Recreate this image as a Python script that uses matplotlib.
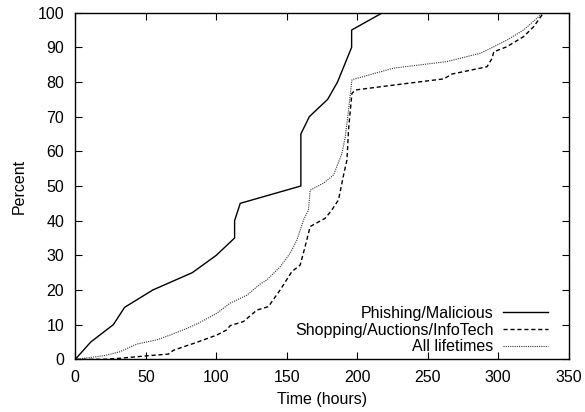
import matplotlib
matplotlib.use("Agg")
import matplotlib.pyplot as plt

plt.rcParams['font.family'] = ['Liberation Sans', 'DejaVu Sans']

# Phishing/Malicious
phish_x = [0, 11, 27, 35, 55, 83, 100, 113, 113, 117, 160, 160, 166, 179, 186, 196, 196, 218]
phish_y = [0, 5, 10, 15, 20, 25, 30, 35, 40, 45, 50, 65, 70, 75, 80, 90, 95, 100]

# Shopping/Auctions/InfoTech
shop_x = [0, 20, 31.7, 50.7, 66, 69.6, 76.7, 86.2, 100.4, 107.5, 109.8, 119.3, 128.8, 137,
          145.3, 153.6, 159.5, 163, 166.6, 177.3, 182, 186.7, 190.3, 192.7, 193.8, 196.2,
          198.6, 235.3, 261.3, 267.2, 292, 295.6, 296.8, 306.2, 318, 325.2, 332.2]
shop_y = [0, 0, 0.3, 1, 1.5, 2.6, 3.6, 4.9, 7, 8.5, 9.7, 10.9, 14.2, 15.2,
          20, 25.3, 27.2, 32.5, 38.3, 40.7, 43.1, 46, 53.2, 57.5, 66.2, 76.7,
          77.7, 79.6, 80.9, 82.3, 84.4, 86.8, 88.7, 90.2, 93.1, 96, 100]

# All lifetimes
all_x = [0, 20, 31.8, 43.6, 57.8, 67.2, 79.1, 87.3, 100.4, 109.8, 121.7, 131.1, 135.9, 145.3,
         152.4, 157.2, 161.9, 165.4, 166.6, 176, 183.2, 189.1, 191.5, 193.8, 196.2, 197.4,
         225.8, 263.7, 287.3, 292, 306.2, 318, 329.9, 332]
all_y = [0, 1, 2.2, 4.4, 5.6, 7, 8.9, 10.4, 13.3, 16.2, 18.5, 21.7, 22.9, 26.7,
         30.6, 34.4, 40.2, 43.1, 48.8, 50.8, 53.2, 59.4, 64.2, 71.9, 80.6, 80.8,
         84, 85.9, 88.3, 89.2, 92.1, 95, 99.3, 100]

labels = ["Phishing/Malicious", "Shopping/Auctions/InfoTech", "All lifetimes"]
x_ticks = [0, 50, 100, 150, 200, 250, 300, 350]
y_ticks = [0, 10, 20, 30, 40, 50, 60, 70, 80, 90, 100]

FS = 11.5

fig = plt.figure(figsize=(5.85, 4.12), dpi=100)
ax = fig.add_axes([0.1287, 0.1279, 0.8435, 0.8413])

ax.plot(phish_x, phish_y, color='black', lw=1.0, linestyle='-', label=labels[0])
ax.plot(shop_x, shop_y, color='black', lw=1.0, linestyle=(0, (3, 2)), label=labels[1])
ax.plot(all_x, all_y, color='#333333', lw=0.8, linestyle=(0, (1, 1)), label=labels[2])

ax.set_xlim(0, 350)
ax.set_ylim(0, 100)
ax.set_xticks(x_ticks)
ax.set_yticks(y_ticks)
ax.tick_params(direction='in', length=5, width=0.8, top=True, right=True,
               labelsize=FS, colors='black')
ax.tick_params(axis='x', pad=8)
ax.tick_params(axis='y', pad=8)
for s in ax.spines.values():
    s.set_linewidth(1.0)

ax.set_xlabel("Time (hours)", fontsize=FS, labelpad=5)
ax.set_ylabel("Percent", fontsize=FS, labelpad=8)

leg = ax.legend(loc='lower right', bbox_to_anchor=(0.958, 0.015), frameon=False,
                markerfirst=False, fontsize=FS, handlelength=2.8, handletextpad=0.6,
                labelspacing=0.1, borderpad=0, borderaxespad=0)

fig.savefig("out.png", dpi=100)
